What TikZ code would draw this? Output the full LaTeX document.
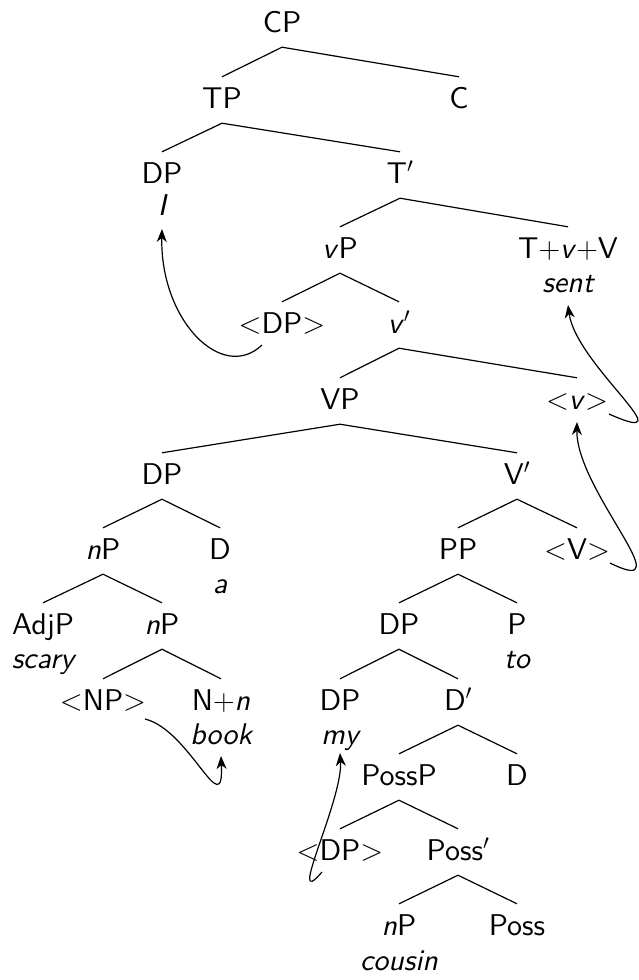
\RequirePackage{fix-cm}
\documentclass[tikz,border=0pt]{standalone}
\usepackage{fontspec}
\newfontfamily\treesf{lmsans10-regular.otf}[ItalicFont=lmsans10-oblique.otf]
\usetikzlibrary{arrows.meta}
\newcommand\treefont{\fontsize{30}{36}\selectfont\treesf}
\tikzset{
  lab/.style={anchor=base, inner sep=0pt, text height=31pt, text depth=15pt, font=\treefont},
  wd/.style={anchor=base, inner sep=0pt, font=\treefont\itshape},
  br/.style={line width=1.2pt},
  mv/.style={line width=1.2pt, -{Stealth[length=13pt,width=10pt,inset=4pt]}}
}
\begin{document}
\begin{tikzpicture}[x=1pt,y=-1pt]
\useasboundingbox (0,0) rectangle (639,980);
% nodes
\node[lab] (cp)   at (282,32)  {CP};
\node[lab] (tp)   at (222,108) {TP};
\node[lab] (c)    at (459,108) {C};
\node[lab] (dpa)  at (162,183) {DP};
\node[wd]  (iw)   at (162,215) {I};
\node[lab] (tbar) at (400,183) {T$'$};
\node[lab] (vp)   at (340,258) {\textit{v}P};
\node[lab] (tvv)  at (568,258) {T$+$\textit{v}$+$V};
\node[wd]  (sent) at (568,292) {sent};
\node[lab] (dpt)  at (282,333) {$<$DP$>$};
\node[lab] (vbar) at (399,333) {\textit{v}$'$};
\node[lab] (vpp)  at (340,409) {VP};
\node[lab] (vt)   at (577,409) {$<$\textit{v}$>$};
\node[lab] (dpb)  at (162,484) {DP};
\node[lab] (Vbar) at (517,484) {V$'$};
\node[lab] (npa)  at (103,559) {\textit{n}P};
\node[lab] (da)   at (220,559) {D};
\node[wd]  (aw)   at (220,593) {a};
\node[lab] (pp)   at (458,559) {PP};
\node[lab] (Vt)   at (577,559) {$<$V$>$};
\node[lab] (adjp) at (43,634)  {AdjP};
\node[wd]  (scary) at (43,668) {scary};
\node[lab] (npb)  at (162,634) {\textit{n}P};
\node[lab] (dpc)  at (399,634) {DP};
\node[lab] (p)    at (517,634) {P};
\node[wd]  (to)   at (517,668) {to};
\node[lab] (npt)  at (103,710) {$<$NP$>$};
\node[lab] (nn)   at (221,710) {N$+$\textit{n}};
\node[wd]  (book) at (221,744) {book};
\node[lab] (dpd)  at (340,710) {DP};
\node[wd]  (my)   at (340,744) {my};
\node[lab] (dbar) at (458,710) {D$'$};
\node[lab] (possp) at (399,785) {PossP};
\node[lab] (db)   at (517,785) {D};
\node[lab] (dpe)  at (340,860) {$<$DP$>$};
\node[lab] (pbar) at (458,860) {Poss$'$};
\node[lab] (npc)  at (399,935) {\textit{n}P};
\node[wd]  (cousin) at (399,970) {cousin};
\node[lab] (poss) at (517,935) {Poss};
% branches
\draw[br] (tp.north) -- (cp.south) -- (c.north);
\draw[br] (dpa.north) -- (tp.south) -- (tbar.north);
\draw[br] (vp.north) -- (tbar.south) -- (tvv.north);
\draw[br] (dpt.north) -- (vp.south) -- (vbar.north);
\draw[br] (vpp.north) -- (vbar.south) -- (vt.north);
\draw[br] (dpb.north) -- (vpp.south) -- (Vbar.north);
\draw[br] (npa.north) -- (dpb.south) -- (da.north);
\draw[br] (pp.north) -- (Vbar.south) -- (Vt.north);
\draw[br] (adjp.north) -- (npa.south) -- (npb.north);
\draw[br] (dpc.north) -- (pp.south) -- (p.north);
\draw[br] (npt.north) -- (npb.south) -- (nn.north);
\draw[br] (dpd.north) -- (dpc.south) -- (dbar.north);
\draw[br] (possp.north) -- (dbar.south) -- (db.north);
\draw[br] (dpe.north) -- (possp.south) -- (pbar.north);
\draw[br] (npc.north) -- (pbar.south) -- (poss.north);
% movement arrows
\coordinate (m1s) at ([shift={(-20pt,-12pt)}]dpt.base);
\coordinate (m1e) at ([yshift=-14pt]iw.base);
\draw[mv] (m1s) .. controls (222,383) and (160,320) .. (m1e);
\coordinate (m2s) at ([shift={(32pt,-5pt)}]vt.base);
\coordinate (m2e) at ([yshift=-13pt]sent.base);
\draw[mv] (m2s) .. controls (690,450) and (576,365) .. (m2e);
\coordinate (m3s) at ([shift={(33pt,-4pt)}]Vt.base);
\coordinate (m3e) at ([yshift=-13pt]vt.base);
\draw[mv] (m3s) .. controls (685,600) and (576,490) .. (m3e);
\coordinate (m4s) at ([shift={(42pt,-9pt)}]npt.base);
\coordinate (m4e) at ([yshift=-12pt]book.base);
\draw[mv] (m4s) .. controls (190,730) and (224,825) .. (m4e);
\coordinate (m5s) at ([shift={(-18pt,-12pt)}]dpe.base);
\coordinate (m5e) at ([yshift=-9pt]my.base);
\draw[mv] (m5s) .. controls (285,915) and (343,800) .. (m5e);
\end{tikzpicture}
\end{document}
